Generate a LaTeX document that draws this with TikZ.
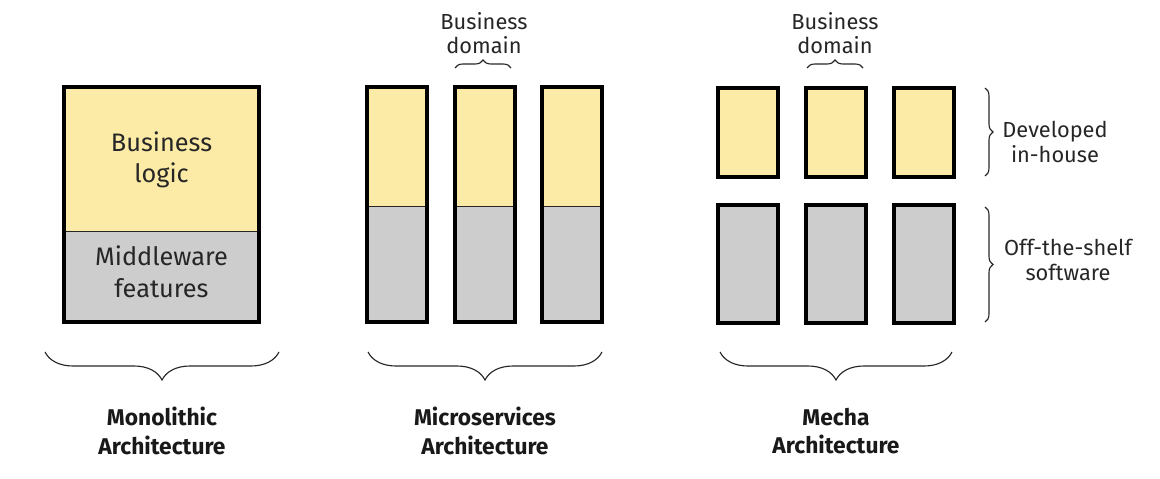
\documentclass[tikz,border=0pt]{standalone}
\usepackage{fontspec}
\setmainfont{Fira Sans}
\usetikzlibrary{decorations.pathreplacing}

\definecolor{bizyellow}{HTML}{FCEBA6}
\definecolor{midgray}{HTML}{CDCDCD}
\definecolor{inkgray}{HTML}{262626}

\tikzset{
  frame/.style={draw=black, line width=2.8pt},
  split/.style={draw=inkgray, line width=0.6pt},
  boxtext/.style={align=center, text=inkgray, font=\fontsize{18}{22.5}\selectfont},
  note/.style={align=center, text=inkgray, font=\fontsize{15.5}{17.5}\selectfont},
  title/.style={align=center, text=black!90, font=\fontsize{16.2}{20}\selectfont\bfseries},
  bracket/.style={draw=inkgray, line width=0.8pt, decorate,
    decoration={brace, amplitude=#1}},
}

\begin{document}
\begin{tikzpicture}[x=0.025cm, y=-0.025cm]
  \useasboundingbox (0,0) rectangle (1160,479);

  % monolithic
  \fill[bizyellow] (64,87) rectangle (259,231);
  \fill[midgray] (64,231) rectangle (259,322);
  \draw[split] (64,231) -- (259,231);
  \draw[frame] (64,87) rectangle (259,322);
  \node[boxtext] (logic) at (161.5,160) {Business\\logic};
  \node[boxtext] (middleware) at (161.5,272) {Middleware\\features};

  % microservices
  \foreach \x in {367,455,542} {
    \fill[bizyellow] (\x,87) rectangle (\x+60,206);
    \fill[midgray] (\x,206) rectangle (\x+60,322);
    \draw[split] (\x,206) -- (\x+60,206);
    \draw[frame] (\x,87) rectangle (\x+60,322);
  }

  % mecha
  \foreach \x in {718,806,894} {
    \draw[frame, fill=bizyellow] (\x,88) rectangle (\x+60,177);
    \draw[frame, fill=midgray] (\x,205) rectangle (\x+60,323);
  }

  % business domain notes
  \coordinate (msl) at (455,68);
  \coordinate (msr) at (511,68);
  \draw[bracket=0.2cm] (msl) -- (msr);
  \node[note] (msdomain) at (484,33) {Business\\domain};
  \coordinate (mel) at (807,68);
  \coordinate (mer) at (863,68);
  \draw[bracket=0.2cm] (mel) -- (mer);
  \node[note] (medomain) at (835,33) {Business\\domain};

  % right side notes
  \coordinate (dht) at (985,88);
  \coordinate (dhb) at (985,176);
  \draw[bracket=0.2cm] (dht) -- (dhb);
  \node[note] (inhouse) at (1055,142) {Developed\\in-house};
  \coordinate (ost) at (985,207);
  \coordinate (osb) at (985,322);
  \draw[bracket=0.2cm] (ost) -- (osb);
  \node[note] (shelf) at (1068,260) {Off-the-shelf\\software};

  % bottom braces and titles
  \coordinate (mor) at (279,352);
  \coordinate (mol) at (45,352);
  \draw[bracket=0.7cm] (mor) -- (mol);
  \node[title] (mono) at (162,431) {Monolithic\\Architecture};
  \coordinate (mir) at (602,352);
  \coordinate (mil) at (368,352);
  \draw[bracket=0.7cm] (mir) -- (mil);
  \node[title] (micro) at (485,431) {Microservices\\Architecture};
  \coordinate (mcr) at (952,352);
  \coordinate (mcl) at (720,352);
  \draw[bracket=0.7cm] (mcr) -- (mcl);
  \node[title] (mecha) at (836,431) {Mecha\\Architecture};
\end{tikzpicture}
\end{document}
